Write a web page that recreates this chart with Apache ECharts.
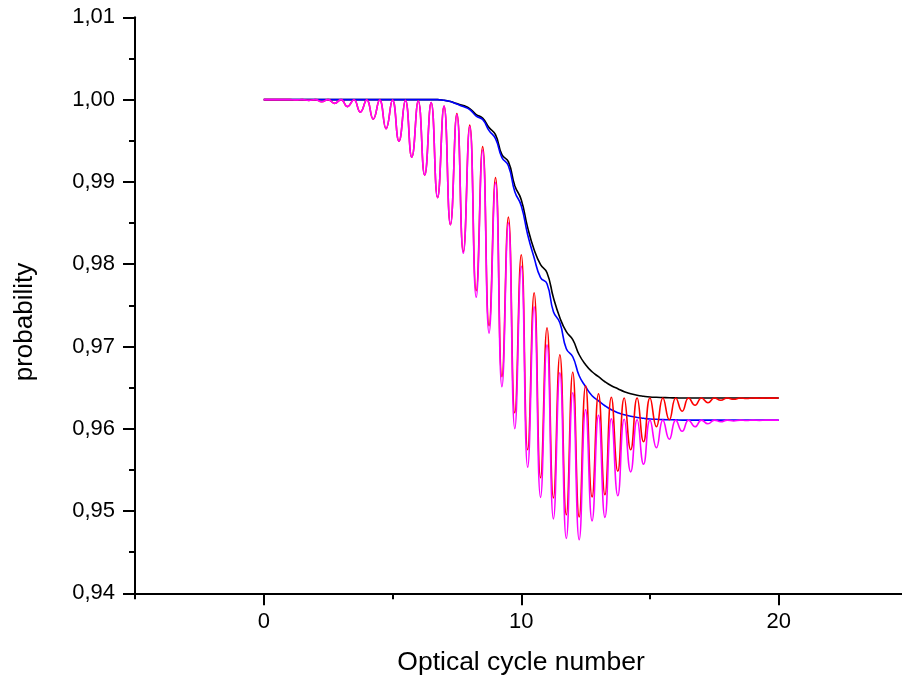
<!DOCTYPE html>
<html>
<head>
<meta charset="utf-8">
<script src="https://cdn.jsdelivr.net/npm/echarts@6/dist/echarts.min.js"></script>
<style>
html,body{margin:0;padding:0;background:#fff;}
#chart{width:902px;height:682px;}
</style>
</head>
<body>
<div id="chart"></div>
<script>
// Optical cycle number (x values)
const cycles = [
  0, 0.25, 0.5, 0.75, 1, 1.25, 1.5, 1.75, 2, 2.25, 2.5, 2.75, 3, 3.25, 3.5, 3.75,
  4, 4.25, 4.5, 4.75, 5, 5.25, 5.5, 5.75, 6, 6.25, 6.5, 6.75, 7, 7.25, 7.5, 7.75,
  8, 8.25, 8.5, 8.75, 9, 9.25, 9.5, 9.75, 10, 10.25, 10.5, 10.75, 11, 11.25, 11.5, 11.75,
  12, 12.25, 12.5, 12.75, 13, 13.25, 13.5, 13.75, 14, 14.25, 14.5, 14.75, 15, 15.25, 15.5, 15.75,
  16, 16.25, 16.5, 16.75, 17, 17.25, 17.5, 17.75, 18, 18.25, 18.5, 18.75, 19, 19.25, 19.5, 19.75, 20
];

// black curve
const blackVals = [
  1, 1, 1, 1, 1, 1, 1, 1, 1, 1, 1, 1, 1, 1, 1, 1,
  1, 1, 1, 1, 1, 1, 1, 1, 1, 1, 1, 1, 0.99991, 0.99976, 0.99951, 0.99927,
  0.99891, 0.99818, 0.99775, 0.99660, 0.99574, 0.99331, 0.99246, 0.98954, 0.98784, 0.98444, 0.98176, 0.97994, 0.97896, 0.97592, 0.97349, 0.97179,
  0.97082, 0.96899, 0.96778, 0.96692, 0.96632, 0.96571, 0.96522, 0.96486, 0.96449, 0.96425, 0.96407, 0.96395, 0.96386, 0.96382, 0.96379, 0.96376,
  0.96375, 0.96373, 0.96373, 0.96373, 0.96373, 0.96373, 0.96373, 0.96373, 0.96373, 0.96373, 0.96373, 0.96373, 0.96373, 0.96373, 0.96373, 0.96373, 0.96373
];

// blue curve
const blueVals = [
  1, 1, 1, 1, 1, 1, 1, 1, 1, 1, 1, 1, 1, 1, 1, 1,
  1, 1, 1, 1, 1, 1, 1, 1, 1, 1, 1, 1, 0.99991, 0.99976, 0.99945, 0.99915,
  0.99878, 0.99799, 0.99757, 0.99623, 0.99526, 0.99295, 0.99197, 0.98881, 0.98711, 0.98358, 0.98079, 0.97836, 0.97763, 0.97422, 0.97288, 0.96972,
  0.96875, 0.96644, 0.96510, 0.96401, 0.96340, 0.96279, 0.96230, 0.96194, 0.96170, 0.96151, 0.96137, 0.96127, 0.96118, 0.96115, 0.96111, 0.96109,
  0.96108, 0.96105, 0.96105, 0.96105, 0.96105, 0.96105, 0.96105, 0.96105, 0.96105, 0.96105, 0.96105, 0.96105, 0.96105, 0.96105, 0.96105, 0.96105, 0.96105
];

// red oscillating curve
const redVals = [
  1, 1, 1, 0.99999, 1, 0.99996, 1, 0.99990, 1, 0.99973, 1, 0.99954, 1, 0.99915, 0.99998, 0.99848,
  0.99996, 0.99763, 0.99995, 0.99647, 0.99993, 0.99495, 0.99990, 0.99301, 0.99982, 0.99082, 0.99964, 0.98808, 0.99921, 0.98480, 0.99830, 0.98152,
  0.99690, 0.97677, 0.99428, 0.97252, 0.99052, 0.96632, 0.98571, 0.96194, 0.98115, 0.95744, 0.97653, 0.95404, 0.97228, 0.95160, 0.96899, 0.94954,
  0.96686, 0.94929, 0.96522, 0.95172, 0.96425, 0.95197, 0.96382, 0.95483, 0.96373, 0.95744, 0.96373, 0.95841, 0.96373, 0.96024, 0.96373, 0.96109,
  0.96373, 0.96212, 0.96373, 0.96285, 0.96373, 0.96316, 0.96373, 0.96346, 0.96373, 0.96358, 0.96373, 0.96367, 0.96373, 0.96370, 0.96373, 0.96372, 0.96373
];

// magenta oscillating curve
const magentaVals = [
  1, 1, 1, 0.99999, 1, 0.99996, 1, 0.99990, 1, 0.99973, 1, 0.99954, 1, 0.99915, 0.99998, 0.99848,
  0.99996, 0.99763, 0.99995, 0.99647, 0.99993, 0.99495, 0.99990, 0.99301, 0.99982, 0.99082, 0.99964, 0.98808, 0.99921, 0.98480, 0.99818, 0.98133,
  0.99672, 0.97598, 0.99386, 0.97161, 0.98991, 0.96510, 0.98504, 0.95999, 0.97975, 0.95531, 0.97483, 0.95166, 0.97021, 0.94905, 0.96680, 0.94668,
  0.96437, 0.94650, 0.96230, 0.94881, 0.96164, 0.94923, 0.96121, 0.95185, 0.96115, 0.95476, 0.96109, 0.95568, 0.96105, 0.95768, 0.96105, 0.95872,
  0.96105, 0.95969, 0.96105, 0.96024, 0.96105, 0.96060, 0.96105, 0.96085, 0.96105, 0.96094, 0.96105, 0.96100, 0.96105, 0.96102, 0.96105, 0.96104, 0.96105
];

const xMajorTicks = [0, 10, 20];
const xMinorTicks = [-5, 5, 15, 25];

const FONT = '"Liberation Sans", Arial, Helvetica, sans-serif';
const pair = (vals) => cycles.map((x, i) => [x, vals[i]]);

const gridBox = { left: 135, right: -5.5, top: 17.3, bottom: 88.7, containLabel: false, outerBoundsMode: 'none' };

const chart = echarts.init(document.getElementById('chart'), null, { renderer: 'canvas' });
chart.setOption({
  animation: false,
  backgroundColor: '#ffffff',
  grid: [Object.assign({}, gridBox), Object.assign({}, gridBox)],
  xAxis: [
    {
      type: 'value', gridIndex: 0, min: -5, max: 25, interval: 5,
      axisLine: { show: true, onZero: false, lineStyle: { color: '#000', width: 2 } },
      axisTick: { show: true, customValues: xMajorTicks, length: 12, lineStyle: { color: '#000', width: 2 } },
      axisLabel: { show: true, customValues: xMajorTicks, margin: 18, color: '#000', fontSize: 22, fontFamily: FONT },
      splitLine: { show: false }
    },
    {
      type: 'value', gridIndex: 1, min: -5, max: 25, interval: 10, position: 'bottom',
      axisLine: { show: false, onZero: false },
      axisTick: { show: true, customValues: xMinorTicks, length: 6, lineStyle: { color: '#000', width: 2 } },
      axisLabel: { show: false },
      splitLine: { show: false }
    }
  ],
  yAxis: [
    {
      type: 'value', gridIndex: 0, min: 0.94, max: 1.01, interval: 0.01,
      axisLine: { show: true, onZero: false, lineStyle: { color: '#000', width: 2 } },
      axisTick: { show: true, length: 12, lineStyle: { color: '#000', width: 2 } },
      minorTick: { show: true, splitNumber: 2, length: 6, lineStyle: { color: '#000', width: 2 } },
      axisLabel: {
        show: true, margin: 20, color: '#000', fontSize: 22, fontFamily: FONT,
        formatter: (v) => v.toFixed(2).replace('.', ',')
      },
      splitLine: { show: false },
      minorSplitLine: { show: false }
    },
    {
      type: 'value', gridIndex: 1, min: 0.94, max: 1.01, show: false
    }
  ],
  series: [
    { name: 'black', type: 'line', xAxisIndex: 0, yAxisIndex: 0, data: pair(blackVals), showSymbol: false, smooth: 0.5,
      lineStyle: { color: '#000000', width: 1.6 }, z: 2 },
    { name: 'blue', type: 'line', xAxisIndex: 0, yAxisIndex: 0, data: pair(blueVals), showSymbol: false, smooth: 0.5,
      lineStyle: { color: '#0000ff', width: 1.6 }, z: 3 },
    { name: 'red', type: 'line', xAxisIndex: 0, yAxisIndex: 0, data: pair(redVals), showSymbol: false, smooth: 0.5,
      lineStyle: { color: '#ff0000', width: 1.6 }, z: 4 },
    { name: 'magenta', type: 'line', xAxisIndex: 0, yAxisIndex: 0, data: pair(magentaVals), showSymbol: false, smooth: 0.5,
      lineStyle: { color: '#ff00ff', width: 1.6 }, z: 5 }
  ],
  graphic: [
    { type: 'text', x: 521, y: 663, style: { text: 'Optical cycle number', fill: '#000', font: '26.5px ' + FONT, align: 'center', verticalAlign: 'middle' } },
    { type: 'text', x: 25, y: 322, rotation: Math.PI / 2, style: { text: 'probability', fill: '#000', font: '26px ' + FONT, align: 'center', verticalAlign: 'middle' } }
  ]
});
</script>
</body>
</html>
